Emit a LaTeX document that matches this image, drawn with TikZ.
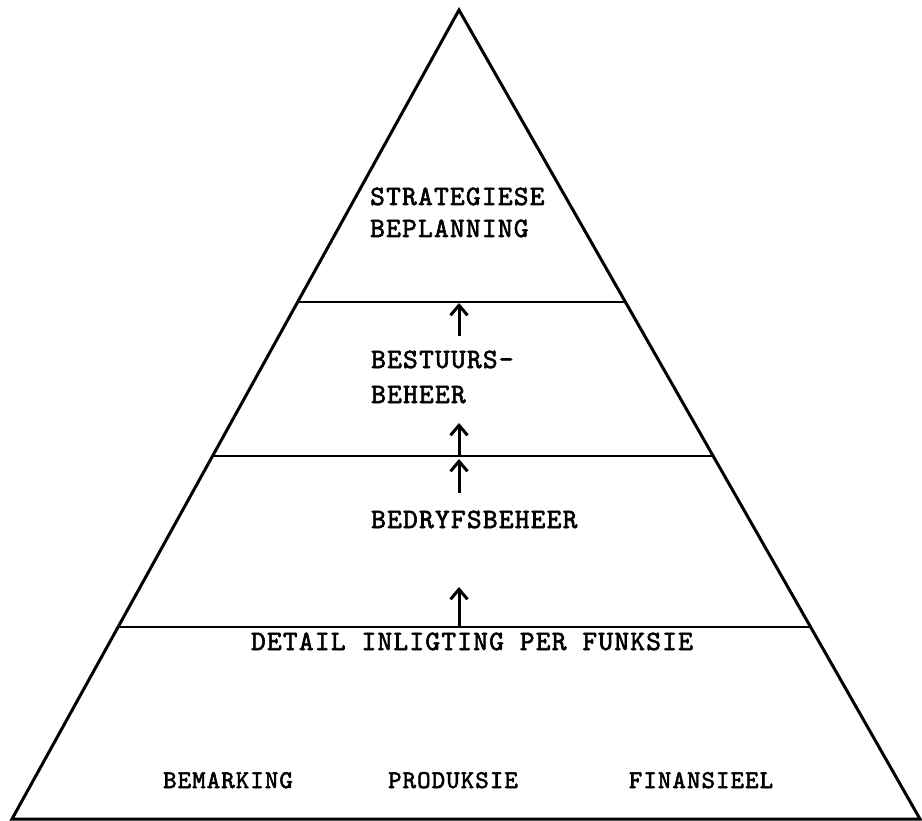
\documentclass[tikz,border=0pt]{standalone}
\usepackage{fontspec}
\newfontfamily\twfont{lmmono10-regular}[Extension=.otf, LetterSpace=4.5, FakeBold=2.2]
\newfontfamily\twfontsm{lmmono10-regular}[Extension=.otf, LetterSpace=4.5, FakeBold=2.2]
\usetikzlibrary{arrows.meta,calc}
\tikzset{
  edge/.style={line width=3pt, line join=miter},
  level/.style={line width=2.8pt},
  uparrow/.style={line width=3pt, -{Straight Barb[length=10pt,width=17pt,line width=3pt]}},
  lbl/.style={inner sep=0pt, anchor=base west, font=\twfont\fontsize{28}{30}\selectfont},
  sublbl/.style={inner sep=0pt, anchor=base, font=\twfontsm\fontsize{25.5}{28}\selectfont},
}
\begin{document}
\begin{tikzpicture}[x=1pt,y=-1pt]
\useasboundingbox (0,0) rectangle (922,821);
\coordinate (apex) at (459,10);
\coordinate (bl) at (12,819);
\coordinate (br) at (920,819);
\draw[edge] (bl) -- (apex) -- (br) -- cycle;
% level lines
\coordinate (l1a) at ($(apex)!0.361!(bl)$);
\coordinate (l1b) at ($(apex)!0.361!(br)$);
\coordinate (l2a) at ($(apex)!0.5513!(bl)$);
\coordinate (l2b) at ($(apex)!0.5513!(br)$);
\coordinate (l3a) at ($(apex)!0.7627!(bl)$);
\coordinate (l3b) at ($(apex)!0.7627!(br)$);
\draw[level] (l1a) -- (l1b);
\draw[level] (l2a) -- (l2b);
\draw[level] (l3a) -- (l3b);
% arrows
\coordinate (a1s) at (459,336);
\coordinate (a1e) at (459,303);
\coordinate (a2s) at (459,456);
\coordinate (a2e) at (459,423);
\coordinate (a3s) at (459,493);
\coordinate (a3e) at (459,459);
\coordinate (a4s) at (459,627);
\coordinate (a4e) at (459,587);
\draw[uparrow] (a1s) -- (a1e);
\draw[uparrow] (a2s) -- (a2e);
\draw[uparrow] (a3s) -- (a3e);
\draw[uparrow] (a4s) -- (a4e);
% labels
\node[lbl] (t1) at (370,205) {STRATEGIESE};
\node[lbl] (t2) at (370,237) {BEPLANNING};
\node[lbl] (t3) at (371,368) {BESTUURS-};
\node[lbl] (t4) at (371,403) {BEHEER};
\node[lbl] (t5) at (371,528) {BEDRYFSBEHEER};
\node[lbl,anchor=base] (t6) at (472,650) {DETAIL INLIGTING PER FUNKSIE};
\node[sublbl] (b1) at (228,788) {BEMARKING};
\node[sublbl] (b2) at (453,788) {PRODUKSIE};
\node[sublbl] (b3) at (701,788) {FINANSIEEL};
\end{tikzpicture}
\end{document}
